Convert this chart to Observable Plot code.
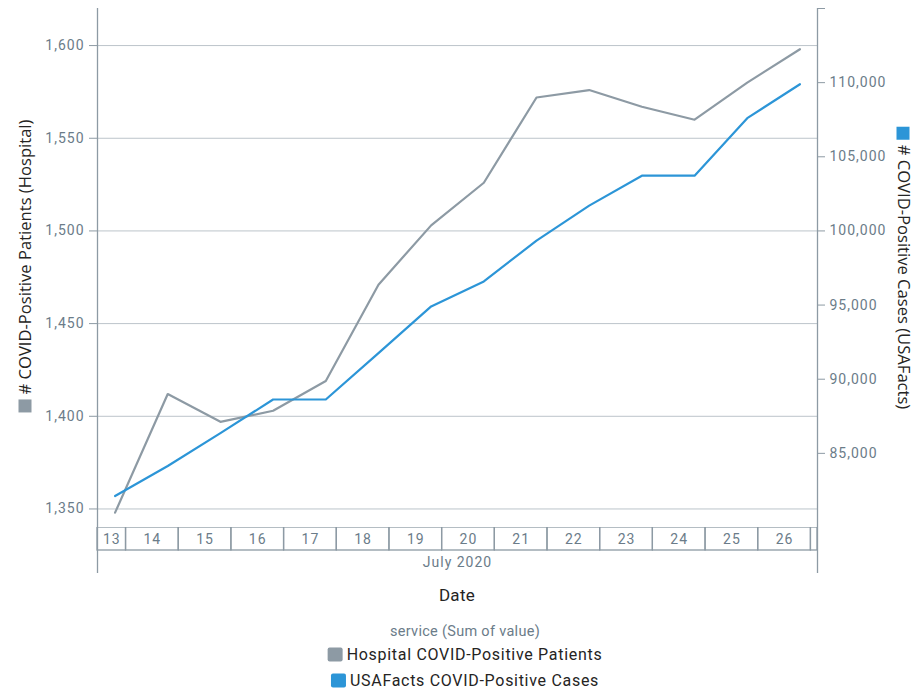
<!DOCTYPE html>
<html>
<head>
<meta charset="utf-8">
<script src="https://cdn.jsdelivr.net/npm/d3@7"></script>
<script src="https://cdn.jsdelivr.net/npm/@observablehq/plot@0.6"></script>
<style>
  html, body { margin: 0; padding: 0; background: #fff; }
  #page { position: relative; width: 916px; height: 692px; overflow: hidden; font-family: Roboto, "Noto Sans", sans-serif; }
  #main, #dateaxis { position: absolute; left: 0; }
  #main { top: 0; }
  #dateaxis { top: 527px; }
  .tick-text text { letter-spacing: 1px; }
  .axtitle { position: absolute; white-space: nowrap; font-size: 16.6px; color: #252423; font-family: "Open Sans", Roboto, sans-serif; line-height: 17px; }
  .axtitle .sq { display: inline-block; width: 13px; height: 13px; margin-right: 5px; vertical-align: -1px; }
  #tl { left: 24px; top: 266px; transform: translate(-50%, -50%) rotate(-90deg); }
  #tr { left: 904px; top: 268px; transform: translate(-50%, -50%) rotate(90deg); }
  #datelbl { position: absolute; left: 457px; top: 595px; transform: translate(-50%, -50%); font-size: 17px; color: #252423; letter-spacing: 0.3px; }
  #legtitle { position: absolute; left: 465px; top: 631px; transform: translate(-50%, -50%); font-size: 14.5px; color: #6b7c89; white-space: nowrap; letter-spacing: 0.3px; }
  .legitem { position: absolute; left: 465px; transform: translate(-50%, -50%); font-size: 16px; color: #252423; white-space: nowrap; letter-spacing: 0.7px; }
  .legitem .sq { display: inline-block; width: 15px; height: 14px; border-radius: 2px; margin-right: 4px; vertical-align: -2px; }
</style>
</head>
<body>
<div id="page">
  <div id="main"></div>
  <div id="dateaxis"></div>
  <div class="axtitle" id="tl"><span class="sq" id="tlsq"></span># COVID-Positive Patients (Hospital)</div>
  <div class="axtitle" id="tr"><span class="sq" id="trsq"></span># COVID-Positive Cases (USAFacts)</div>
  <div id="datelbl">Date</div>
  <div id="legtitle">service (Sum of value)</div>
  <div class="legitem" id="leg0" style="top:654px"></div>
  <div class="legitem" id="leg1" style="top:680px"></div>
</div>
<script>
// ---- data ----
const dates = ["2020-07-13T19:00Z","2020-07-14T19:00Z","2020-07-15T19:00Z","2020-07-16T19:00Z","2020-07-17T19:00Z","2020-07-18T19:00Z","2020-07-19T19:00Z","2020-07-20T19:00Z","2020-07-21T19:00Z","2020-07-22T19:00Z","2020-07-23T19:00Z","2020-07-24T19:00Z","2020-07-25T19:00Z","2020-07-26T19:00Z"];
const hospital = [1348, 1412, 1397, 1403, 1419, 1471, 1503, 1526, 1572, 1576, 1567, 1560, 1580, 1598];
const usafacts = [82125, 84144, 86365, 88632, 88632, 91760, 94909, 96591, 99350, 101704, 103723, 103723, 107605, 109892];
const seriesNames = ["Hospital COVID-Positive Patients", "USAFacts COVID-Positive Cases"];
const seriesColors = ["#8d9aa4", "#2c95d7"];
const leftTicks = [1350, 1400, 1450, 1500, 1550, 1600];
const leftDomain = [1340, 1620];
const rightTicks = [85000, 90000, 95000, 100000, 105000, 110000];
const rightDomain = [80000, 115000];
const monthLabel = "July 2020";

// ---- derived ----
const parsed = dates.map(d => new Date(d));
const pad = 8 * 3600 * 1000;
const xDomain = [new Date(+parsed[0] - pad), new Date(+parsed[parsed.length - 1] + pad)];
const toLeft = d3.scaleLinear(rightDomain, leftDomain);

const rows = [];
parsed.forEach((d, i) => {
  rows.push({date: d, series: seriesNames[0], v: hospital[i]});
  rows.push({date: d, series: seriesNames[1], v: toLeft(usafacts[i])});
});

const axisGray = "#8d9aa4";
const labelGray = "#6b7c89";
const W = 916, ML = 97, MR = 99;

const main = Plot.plot({
  width: W, height: 527,
  marginLeft: ML, marginRight: MR, marginTop: 8, marginBottom: 0,
  className: "tick-text",
  style: {fontFamily: "Roboto, sans-serif", fontSize: "14px", background: "white"},
  x: {type: "utc", domain: xDomain, axis: null},
  y: {domain: leftDomain, axis: null},
  color: {domain: seriesNames, range: seriesColors},
  marks: [
    Plot.gridY(leftTicks, {stroke: "#bcc4ca", strokeOpacity: 1}),
    Plot.ruleX(xDomain, {stroke: axisGray, strokeWidth: 1.3}),
    Plot.axisY(leftTicks, {anchor: "left", tickSize: 8, tickPadding: 5, fontSize: 14, color: labelGray, stroke: axisGray, tickFormat: d3.format(","), label: null}),
    Plot.axisY(rightTicks.map(toLeft), {anchor: "right", tickSize: 7, tickPadding: 5, fontSize: 14, color: labelGray, stroke: axisGray, tickFormat: d => d3.format(",")(Math.round(toLeft.invert(d))), label: null}),
    Plot.axisY(rightDomain.map(toLeft), {anchor: "right", tickSize: 7, stroke: axisGray, tickFormat: () => "", label: null}),
    Plot.line(rows, {x: "date", y: "v", stroke: "series", strokeWidth: 2.2, curve: "linear"})
  ]
});
document.getElementById("main").appendChild(main);

// date band axis
const dayMs = 86400000;
const firstDay = Date.UTC(parsed[0].getUTCFullYear(), parsed[0].getUTCMonth(), parsed[0].getUTCDate());
const cells = [];
for (let t = firstDay; t < +xDomain[1]; t += dayMs) {
  const x1 = new Date(Math.max(t, +xDomain[0]));
  const x2 = new Date(Math.min(t + dayMs, +xDomain[1]));
  const full = (x2 - x1) > dayMs * 0.3;
  cells.push({x1, x2, mid: new Date((+x1 + +x2) / 2), label: full ? String(new Date(t).getUTCDate()) : "", row: "day"});
}

const dateAxis = Plot.plot({
  width: W, height: 46,
  marginLeft: ML, marginRight: MR, marginTop: 0, marginBottom: 0,
  className: "tick-text",
  style: {fontFamily: "Roboto, sans-serif", fontSize: "14px", background: "transparent"},
  x: {type: "utc", domain: xDomain, axis: null},
  y: {type: "band", domain: ["day", "month"], padding: 0, axis: null},
  marks: [
    Plot.barX(cells, {x1: "x1", x2: "x2", y: "row", fill: "none", stroke: axisGray, strokeWidth: 1.3}),
    Plot.text(cells, {x: "mid", y: "row", text: "label", fill: labelGray, fontSize: 14, dy: 1}),
    Plot.text([monthLabel], {x: () => new Date((+xDomain[0] + +xDomain[1]) / 2), y: () => "month", text: d => d, fill: labelGray, fontSize: 14, dy: 1}),
    Plot.ruleX(xDomain, {stroke: axisGray, strokeWidth: 1.3})
  ]
});
document.getElementById("dateaxis").appendChild(dateAxis);

document.getElementById("tlsq").style.background = seriesColors[0];
document.getElementById("trsq").style.background = seriesColors[1];
seriesNames.forEach((n, i) => {
  const el = document.getElementById("leg" + i);
  el.innerHTML = `<span class="sq" style="background:${seriesColors[i]}"></span>${n}`;
});
</script>
</body>
</html>
